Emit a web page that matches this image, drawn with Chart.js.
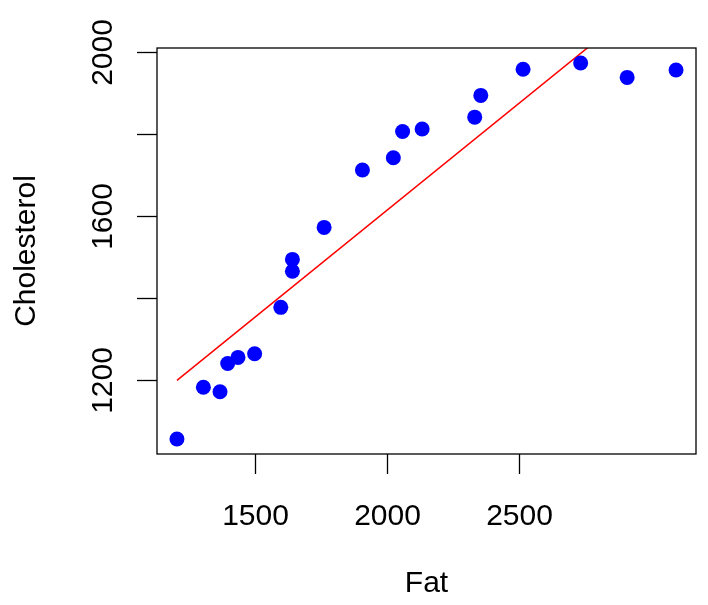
<!DOCTYPE html>
<html>
<head>
<meta charset="utf-8">
<script src="https://cdn.jsdelivr.net/npm/chart.js@4"></script>
<style>
  html, body { margin:0; padding:0; background:#fff; }
  #wrap { width:708px; height:605px; }
</style>
</head>
<body>
<div id="wrap"><canvas id="chartFat" width="708" height="605"></canvas></div>
<script>
// values
const fatValues = [1206, 1306, 1369, 1398, 1437, 1500, 1599, 1643, 1643, 1763,
                   1908, 2025, 2060, 2134, 2333, 2356, 2516, 2734, 2910, 3095];
const cholValues = [1055, 1181, 1170, 1239, 1254, 1263, 1376, 1493, 1464, 1571,
                    1711, 1741, 1805, 1811, 1840, 1893, 1957, 1972, 1937, 1955];
// fitted line, ends at min and max fat
const fitFat = [1206, 3095];
const fitChol = [1198, 2184];

const xTicks = [1500, 2000, 2500];
const yTicks = [1200, 1400, 1600, 1800, 2000];
const xTitle = 'Fat';
const yTitle = 'Cholesterol';

// R style range: data range plus 4% each side
function rRange(vals){
  const lo = Math.min(...vals), hi = Math.max(...vals);
  const pad = (hi - lo) * 0.04;
  return [lo - pad, hi + pad];
}
const [xMin, xMax] = rRange(fatValues);
const [yMin, yMax] = rRange(cholValues);

const FONT = '30px "Liberation Sans", Arial, sans-serif';

const baseAxesPlugin = {
  id: 'baseAxes',
  afterDraw(chart){
    const {ctx, chartArea} = chart;
    const xs = chart.scales.x, ys = chart.scales.y;
    ctx.save();
    ctx.strokeStyle = '#000';
    ctx.lineWidth = 1.3;
    ctx.strokeRect(chartArea.left, chartArea.top,
      chartArea.right - chartArea.left, chartArea.bottom - chartArea.top);

    ctx.fillStyle = '#000';
    ctx.font = FONT;

    // x axis ticks + labels
    ctx.textAlign = 'center';
    ctx.textBaseline = 'alphabetic';
    xTicks.forEach(v => {
      const px = Math.round(xs.getPixelForValue(v)) + 0.5;
      ctx.beginPath();
      ctx.moveTo(px, chartArea.bottom);
      ctx.lineTo(px, chartArea.bottom + 20);
      ctx.stroke();
      ctx.fillText(String(v), px, 525);
    });
    ctx.fillText(xTitle, (chartArea.left + chartArea.right) / 2, 592);

    // y axis ticks + rotated labels
    yTicks.forEach(v => {
      const py = Math.round(ys.getPixelForValue(v)) + 0.5;
      ctx.beginPath();
      ctx.moveTo(chartArea.left, py);
      ctx.lineTo(chartArea.left - 20, py);
      ctx.stroke();
      if (v % 400 === 0) {
        ctx.save();
        ctx.translate(112, py);
        ctx.rotate(-Math.PI / 2);
        ctx.fillText(String(v), 0, 0);
        ctx.restore();
      }
    });
    ctx.save();
    ctx.translate(35, (chartArea.top + chartArea.bottom) / 2);
    ctx.rotate(-Math.PI / 2);
    ctx.fillText(yTitle, 0, 0);
    ctx.restore();
    ctx.restore();
  }
};

new Chart(document.getElementById('chartFat'), {
  type:'scatter',
  data:{ datasets:[
    {
      label:'points',
      data: fatValues.map((x, i) => ({x, y: cholValues[i]})),
      backgroundColor:'#0000FF',
      borderColor:'#0000FF',
      pointRadius:7.5,
      pointBorderWidth:0,
      clip:false
    },
    {
      type:'line',
      label:'fit',
      data: fitFat.map((x, i) => ({x, y: fitChol[i]})),
      borderColor:'#FF0000',
      borderWidth:1.5,
      pointRadius:0,
      fill:false
    }
  ]},
  options:{
    responsive:false,
    animation:false,
    events:[],
    layout:{ padding:{ top:48, right:12, left:0, bottom:0 }, autoPadding:false },
    plugins:{ legend:{ display:false }, tooltip:{ enabled:false } },
    scales:{
      x:{
        type:'linear', min:xMin, max:xMax,
        grid:{ display:false }, border:{ display:false },
        ticks:{ display:false },
        afterFit(s){ s.height = 151; }
      },
      y:{
        type:'linear', min:yMin, max:yMax,
        grid:{ display:false }, border:{ display:false },
        ticks:{ display:false },
        afterFit(s){ s.width = 157; }
      }
    }
  },
  plugins:[baseAxesPlugin]
});
</script>
</body>
</html>
